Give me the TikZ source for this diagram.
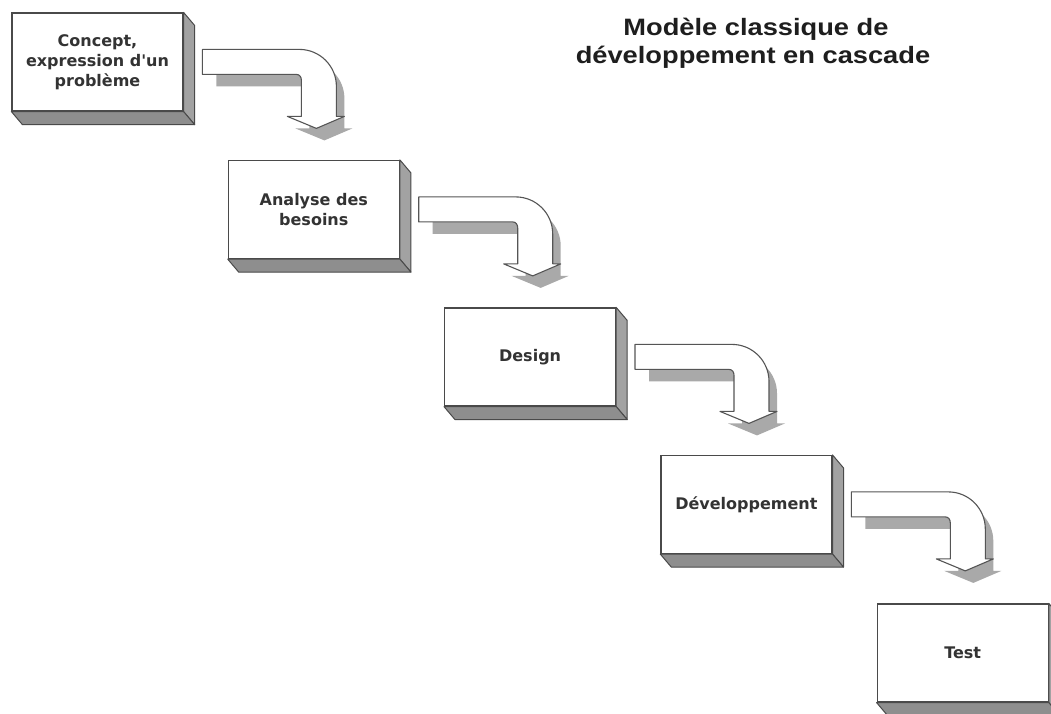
\documentclass[tikz,border=0pt]{standalone}
\usepackage{fontspec}
\setmainfont{DejaVu Sans}[Ligatures=TeXOff]
\newfontfamily\titlefont[FakeStretch=1.15]{Liberation Sans}
\usetikzlibrary{calc}

\definecolor{edge}{HTML}{4A4A4A}
\definecolor{sideface}{HTML}{A2A2A2}
\definecolor{bottomface}{HTML}{8E8E8E}
\definecolor{arrowshade}{HTML}{A9A9A9}
\definecolor{arrowedge}{HTML}{555555}
\definecolor{labeltext}{HTML}{333333}
\definecolor{titletext}{HTML}{1E1E1E}

\tikzset{
  phase/.style={draw=edge, line width=1.2pt, fill=white,
    minimum width=171pt, minimum height=98pt, inner sep=0pt,
    align=center, text=labeltext,
    font=\bfseries\fontsize{16}{20}\selectfont},
  headline/.style={anchor=base, inner sep=0pt, text=titletext,
    font=\titlefont\bfseries\fontsize{23.7}{26}\selectfont},
  sideface/.style={fill=sideface, draw=edge, line width=1pt, line join=round},
  bottomface/.style={fill=bottomface, draw=edge, line width=1pt, line join=round},
  flowshade/.style={fill=arrowshade},
  flowarrow/.style={fill=white, draw=arrowedge, line width=1.1pt, line join=round}
}

% right and bottom faces that give a box its depth
\newcommand{\boxdepth}[1]{%
  \path[sideface] (#1.north east) -- ($(#1.north east)+(11,13)$)
    -- ($(#1.south east)+(11,13)$) -- (#1.south east) -- cycle;
  \path[bottomface] (#1.south west) -- (#1.south east)
    -- ($(#1.south east)+(11,13)$) -- ($(#1.south west)+(11,13)$) -- cycle;
}

% bent arrow leaving a box towards the next one, with its drop shadow
\newcommand{\cascadearrow}[1]{%
  \begin{scope}[shift={(#1.north west)}]
    \path[flowshade, shift={(8,12)}] (197,37) -- (288,37)
      .. controls (308.4,37) and (325,53.6) .. (325,74) -- (325,104)
      -- (333,104) -- (305,116) -- (276,104) -- (290,104) -- (290,68)
      .. controls (290,64.7) and (288.3,62) .. (285,62) -- (197,62) -- cycle;
    \path[flowarrow] (191,37) -- (288,37)
      .. controls (308.4,37) and (325,53.6) .. (325,74) -- (325,104)
      -- (333,104) -- (305,116) -- (276,104) -- (290,104) -- (290,68)
      .. controls (290,64.7) and (288.3,62) .. (285,62) -- (191,62) -- cycle;
  \end{scope}
}

\begin{document}
\begin{tikzpicture}[x=1pt, y=-1pt]
  \useasboundingbox[fill=white] (0,0) rectangle (1051,713);

  % title
  \node[headline] (title1) at (756,35) {Modèle classique de};
  \node[headline] (title2) at (753,63) {développement en cascade};

  % the five phases
  \node[phase] (concept) at (97.5,62)    {Concept,\\expression d'un\\problème};
  \node[phase] (analyse) at (313.8,209.5) {Analyse des\\besoins};
  \node[phase] (design)  at (530.1,357)  {Design};
  \node[phase] (dev)     at (746.4,504.5) {Développement};
  \node[phase] (test)    at (962.7,653)  {Test};

  \boxdepth{concept}
  \boxdepth{analyse}
  \boxdepth{design}
  \boxdepth{dev}
  \boxdepth{test}

  % arrows between consecutive phases
  \cascadearrow{concept}
  \cascadearrow{analyse}
  \cascadearrow{design}
  \cascadearrow{dev}
\end{tikzpicture}
\end{document}
